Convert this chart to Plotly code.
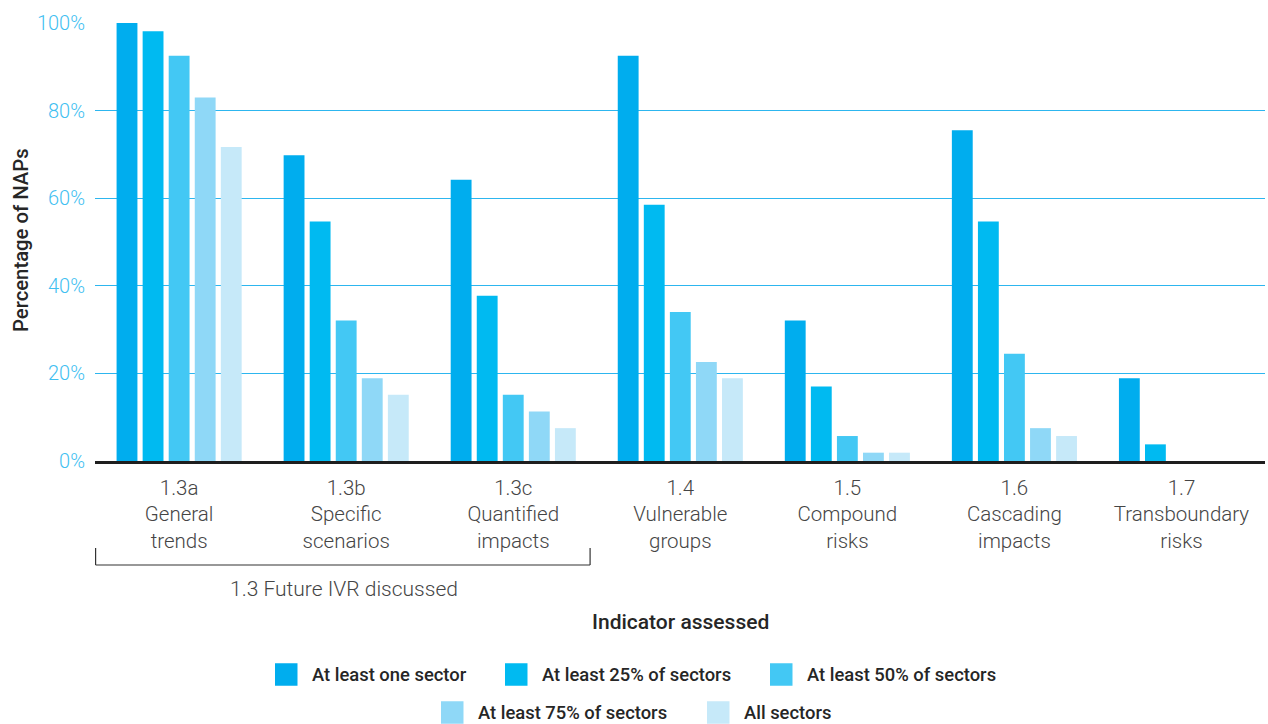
import plotly.graph_objects as go

# Indicators assessed across the NAPs
categories = ["1.3a<br>General<br>trends", "1.3b<br>Specific<br>scenarios",
              "1.3c<br>Quantified<br>impacts", "1.4<br>Vulnerable<br>groups",
              "1.5<br>Compound<br>risks", "1.6<br>Cascading<br>impacts",
              "1.7<br>Transboundary<br>risks"]

series_names = ["At least one sector", "At least 25% of sectors", "At least 50% of sectors",
                "At least 75% of sectors", "All sectors"]

# Percentage of NAPs per indicator
at_least_one = [100.0, 69.8, 64.2, 92.5, 32.1, 75.5, 18.9]
at_least_25 = [98.1, 54.7, 37.7, 58.5, 17.0, 54.7, 3.8]
at_least_50 = [92.5, 32.1, 15.1, 34.0, 5.7, 24.5, 0.0]
at_least_75 = [83.0, 18.9, 11.3, 22.6, 1.9, 7.5, 0.0]
all_sectors = [71.7, 15.1, 7.5, 18.9, 1.9, 5.7, 0.0]

series_values = [at_least_one, at_least_25, at_least_50, at_least_75, all_sectors]
colors = ["#00adee", "#00baf1", "#43c8f4", "#8fd8f7", "#c6e9f9"]

y_ticks = [0, 20, 40, 60, 80, 100]
y_tick_labels = ["0%", "20%", "40%", "60%", "80%", "100%"]

# Figure geometry (pixels)
W, H = 1268, 724
M_L, M_R, M_T, M_B = 95, 3, 23, 263
PLOT_W, PLOT_H = W - M_L - M_R, H - M_T - M_B


def px_x(px):
    return (px - M_L) / PLOT_W


def px_y(py):
    return (H - M_B - py) / PLOT_H


fig = go.Figure()
for name, vals, col in zip(series_names, series_values, colors):
    fig.add_trace(go.Bar(
        x=categories, y=vals, name=name, showlegend=False,
        marker=dict(color=col, line=dict(width=0)),
    ))

tick_font = dict(family="Roboto", size=20.5, color="#454545", weight=300)
label_font = dict(family="Roboto", size=21, color="#454545", weight=300)
legend_font = dict(family="Roboto", size=18.4, color="#262626", weight=500)

# Bracket grouping the three 1.3 sub-indicators
bracket_y, tick_top = px_y(565), px_y(548)
x_left, x_right = -0.5, 2.46
for shp in [dict(x0=x_left, x1=x_right, y0=bracket_y, y1=bracket_y),
            dict(x0=x_left, x1=x_left, y0=bracket_y, y1=tick_top),
            dict(x0=x_right, x1=x_right, y0=bracket_y, y1=tick_top)]:
    fig.add_shape(type="line", xref="x", yref="paper",
                  line=dict(color="#333333", width=1.2), **shp)

fig.add_annotation(x=0.985, y=px_y(589), xref="x", yref="paper",
                   text="1.3 Future IVR discussed", showarrow=False,
                   font=label_font, xanchor="center", yanchor="middle")

# Axis titles
fig.add_annotation(x=0.5, y=px_y(622), xref="paper", yref="paper",
                   text="Indicator assessed", showarrow=False,
                   font=dict(family="Roboto", size=21, color="#262626", weight=500),
                   xanchor="center", yanchor="middle")
fig.add_annotation(x=px_x(21), y=px_y(240), xref="paper", yref="paper",
                   text="Percentage of NAPs", showarrow=False, textangle=-90,
                   font=dict(family="Roboto", size=20.3, color="#262626", weight=500),
                   xanchor="center", yanchor="middle")

# Legend: two centred rows of colour swatches with labels
legend_left_px = [275, 505, 770, 441, 707]
legend_mid_px = [674.5, 674.5, 674.5, 712.5, 712.5]
SWATCH = 22.5
for name, col, lx, ly in zip(series_names, colors, legend_left_px, legend_mid_px):
    fig.add_shape(type="rect", xref="paper", yref="paper",
                  x0=px_x(lx), x1=px_x(lx + SWATCH),
                  y0=px_y(ly - SWATCH / 2), y1=px_y(ly + SWATCH / 2),
                  fillcolor=col, line=dict(width=0))
    fig.add_annotation(x=px_x(lx + 35), y=px_y(ly), xref="paper", yref="paper",
                       text=name, showarrow=False, font=legend_font,
                       xanchor="left", yanchor="middle")

fig.update_layout(
    width=W, height=H,
    margin=dict(l=M_L, r=M_R, t=M_T, b=M_B, autoexpand=False),
    paper_bgcolor="white", plot_bgcolor="white",
    barmode="group", bargap=0.22, bargroupgap=0.2,
    font=dict(family="Roboto"),
    showlegend=False,
    xaxis=dict(
        showgrid=False, showline=True, linecolor="#1e1e1e", linewidth=3,
        tickfont=tick_font, ticks="", tickangle=0, automargin=False,
        ticklabelstandoff=6,
    ),
    yaxis=dict(
        range=[0, 100], tickvals=y_ticks, ticktext=y_tick_labels,
        showgrid=True, gridcolor="#2db6ef", gridwidth=1.3, zeroline=False,
        tickfont=dict(family="Roboto", size=20, color="#3fc0f1", weight=300),
        ticklabelstandoff=9, automargin=False,
    ),
)

fig.write_html("out.html")
